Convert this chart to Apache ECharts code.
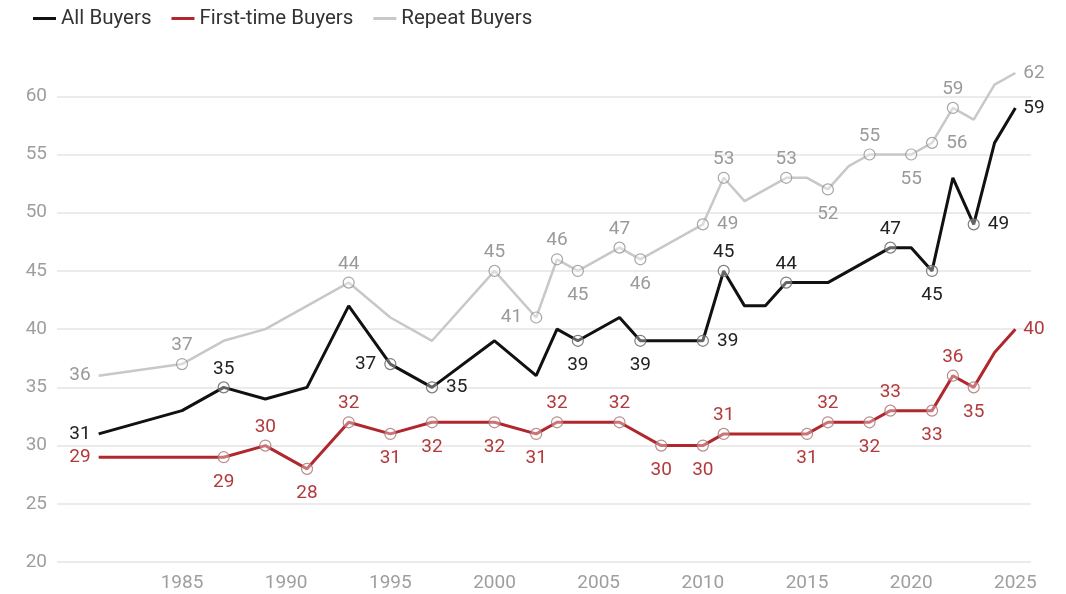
<!DOCTYPE html>
<html>
<head>
<meta charset="utf-8">
<script src="https://cdn.jsdelivr.net/npm/echarts@6/dist/echarts.min.js"></script>
<style>
html,body{margin:0;padding:0;background:#fff;}
#chart{width:1066px;height:594px;}
</style>
</head>
<body>
<div id="chart"></div>
<script>
// ---- Data ----
const seriesNames = ['All Buyers', 'First-time Buyers', 'Repeat Buyers'];

const allYears   = [1981,1985,1987,1989,1991,1993,1995,1997,2000,2002,2003,2004,2006,2007,2010,2011,2012,2013,2014,2016,2019,2020,2021,2022,2023,2024,2025];
const allValues  = [31,33,35,34,35,42,37,35,39,36,40,39,41,39,39,45,42,42,44,44,47,47,45,53,49,56,59];

const firstYears  = [1981,1987,1989,1991,1993,1995,1997,2000,2002,2003,2006,2008,2010,2011,2015,2016,2018,2019,2021,2022,2023,2024,2025];
const firstValues = [29,29,30,28,32,31,32,32,31,32,32,30,30,31,31,32,32,33,33,36,35,38,40];

const repeatYears  = [1981,1985,1987,1989,1993,1995,1997,2000,2002,2003,2004,2006,2007,2010,2011,2012,2014,2015,2016,2017,2018,2020,2021,2022,2023,2024,2025];
const repeatValues = [36,37,39,40,44,41,39,45,41,46,45,47,46,49,53,51,53,53,52,54,55,55,56,59,58,61,62];

const yTicks = [20,25,30,35,40,45,50,55,60];
const xTickYears = [1985,1990,1995,2000,2005,2010,2015,2020,2025];

// ---- Styling (label placement per annotated point) ----
const allLabelPos = {1981:'left',1987:'top',1995:'left',1997:'right',2004:'bottom',2007:'bottom',2010:'right',2011:'top',2014:'top',2019:'top',2021:'bottom',2023:'right',2025:'right'};
const firstLabelPos = {1981:'left',1987:'bottom',1989:'top',1991:'bottom',1993:'top',1995:'bottom',1997:'bottom',2000:'bottom',2002:'bottom',2003:'top',2006:'top',2008:'bottom',2010:'bottom',2011:'top',2015:'bottom',2016:'top',2018:'bottom',2019:'top',2021:'bottom',2022:'top',2023:'bottom',2025:'right'};
const repeatLabelPos = {1981:'left',1985:'top',1993:'top',2000:'top',2002:'left',2003:'top',2004:'bottom',2006:'top',2007:'bottom',2010:'right',2011:'top',2014:'top',2016:'bottom',2018:'top',2020:'bottom',2021:'right',2022:'top',2025:'right'};
const labelDistance = { top: 3, bottom: 9, left: 8, right: 8 };

const FONT = 'Roboto, "Noto Sans", sans-serif';

function buildData(years, values, posMap, labelColor, markerBorder) {
  const first = years[0], last = years[years.length - 1];
  return years.map((y, i) => {
    const pos = posMap[y];
    const marked = pos && y !== first && y !== last;
    return {
      value: [y, values[i]],
      symbol: 'circle',
      symbolSize: marked ? 11 : 0,
      itemStyle: {
        color: 'rgba(255,255,255,0.35)',
        borderColor: markerBorder,
        borderWidth: 1.2
      },
      label: pos ? {
        show: true,
        position: pos,
        distance: labelDistance[pos],
        color: labelColor,
        fontSize: 19,
        fontFamily: FONT,
        formatter: String(values[i])
      } : { show: false }
    };
  });
}

function makeSeries(name, years, values, posMap, lineColor, width, labelColor, markerBorder, z) {
  return {
    name: name,
    type: 'line',
    z: z,
    showSymbol: true,
    data: buildData(years, values, posMap, labelColor, markerBorder),
    lineStyle: { color: lineColor, width: width },
    itemStyle: { color: lineColor },
    emphasis: { disabled: true },
    label: { show: false }
  };
}

const chart = echarts.init(document.getElementById('chart'), null, { renderer: 'canvas' });

chart.setOption({
  animation: false,
  backgroundColor: '#ffffff',
  textStyle: { fontFamily: FONT },
  legend: {
    left: 28,
    top: 3,
    icon: 'rect',
    itemWidth: 23,
    itemHeight: 3,
    itemGap: 20,
    textStyle: { fontSize: 20.5, color: '#333', fontFamily: FONT },
    data: seriesNames
  },
  grid: { left: 57, right: 35, top: 73, bottom: 32, containLabel: false },
  xAxis: {
    type: 'value',
    min: 1979,
    max: 2025.75,
    interval: 1,
    axisLine: { show: false },
    axisTick: { show: false },
    splitLine: { show: false },
    axisLabel: {
      color: '#9e9e9e',
      fontSize: 19,
      fontFamily: FONT,
      margin: 12,
      showMinLabel: true,
      showMaxLabel: true,
      formatter: v => xTickYears.indexOf(v) >= 0 ? String(v) : ''
    }
  },
  yAxis: {
    type: 'value',
    min: yTicks[0],
    max: 62,
    interval: 5,
    axisLine: { show: false },
    axisTick: { show: false },
    splitLine: { show: true, showMaxLine: false, lineStyle: { color: '#e4e4e4', width: 1.5 } },
    axisLabel: {
      color: '#9e9e9e',
      fontSize: 19,
      fontFamily: FONT,
      margin: 10,
      showMaxLabel: false,
      formatter: v => yTicks.indexOf(v) >= 0 ? String(v) : ''
    }
  },
  series: [
    makeSeries('Repeat Buyers', repeatYears, repeatValues, repeatLabelPos, '#c8c8c8', 2.5, '#9a9a9a', 'rgba(150,150,150,0.85)', 2),
    makeSeries('All Buyers', allYears, allValues, allLabelPos, '#111111', 3, '#222222', 'rgba(110,110,110,0.9)', 3),
    makeSeries('First-time Buyers', firstYears, firstValues, firstLabelPos, '#b0282d', 3, '#b23a3c', 'rgba(170,120,120,0.85)', 4)
  ]
});
</script>
</body>
</html>
